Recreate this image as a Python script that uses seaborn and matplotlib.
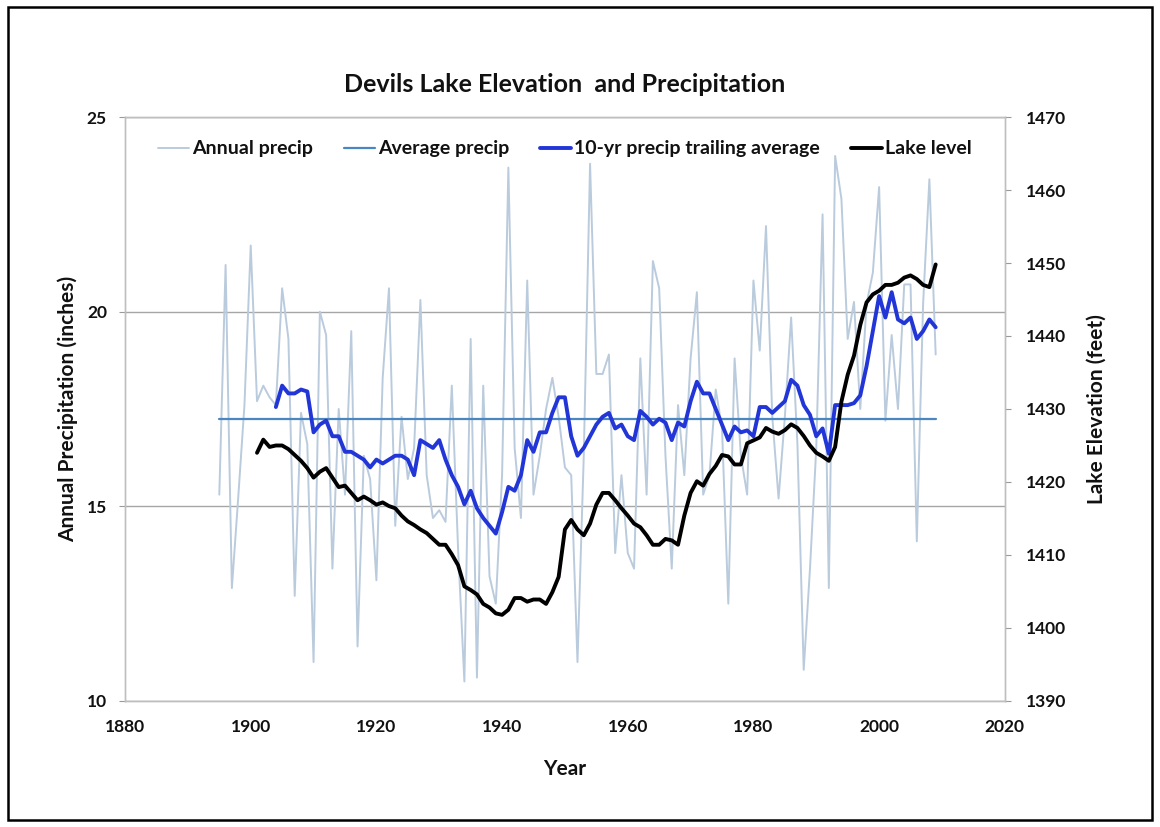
import matplotlib
matplotlib.use("Agg")
import matplotlib.pyplot as plt
import pandas as pd
import seaborn as sns
from matplotlib.patches import Rectangle

# annual precipitation (inches), 1895-2009
PRECIP_YEARS = list(range(1895, 2010))
ANNUAL_PRECIP = [
    15.3, 21.2, 12.9, 15.2, 17.6,
    21.7, 17.7, 18.1, 17.8, 17.6, 20.6, 19.3, 12.7, 17.4, 16.6,
    11.0, 20.0, 19.4, 13.4, 17.5, 15.3, 19.5, 11.4, 16.3, 15.7,
    13.1, 18.3, 20.6, 14.5, 17.3, 15.7, 16.5, 20.3, 15.8, 14.7,
    14.9, 14.6, 18.1, 13.9, 10.5, 19.3, 10.6, 18.1, 13.2, 12.5,
    15.8, 23.7, 16.5, 14.7, 20.8, 15.3, 16.3, 17.5, 18.3, 17.3,
    16.0, 15.8, 11.0, 16.3, 23.8, 18.4, 18.4, 18.9, 13.8, 15.8,
    13.8, 13.4, 18.8, 15.3, 21.3, 20.6, 16.3, 13.4, 17.6, 15.8,
    18.8, 20.5, 15.3, 15.8, 18.0, 17.0, 12.5, 18.8, 16.3, 15.3,
    20.8, 19.0, 22.2, 17.3, 15.2, 17.3, 19.85, 16.6, 10.8, 13.4,
    16.5, 22.5, 12.9, 24.0, 22.9, 19.3, 20.25, 17.5, 20.2, 21.0,
    23.2, 17.2, 19.4, 17.5, 20.7, 20.7, 14.1, 20.2, 23.4, 18.9,
]
AVG_PRECIP = 17.25

# 10-yr trailing average, 1904-2009
TRAIL_YEARS = list(range(1904, 2010))
TRAIL_AVG = [
    17.55, 18.1, 17.9, 17.9, 18.0, 17.95,
    16.9, 17.1, 17.2, 16.8, 16.8, 16.4, 16.4, 16.3, 16.2, 16.0,
    16.2, 16.1, 16.2, 16.3, 16.3, 16.2, 15.8, 16.7, 16.6, 16.5,
    16.7, 16.2, 15.8, 15.5, 15.05, 15.4, 14.95, 14.7, 14.5, 14.3,
    14.85, 15.5, 15.4, 15.8, 16.7, 16.4, 16.9, 16.9, 17.4, 17.8,
    17.8, 16.8, 16.3, 16.5, 16.8, 17.1, 17.3, 17.4, 17.0, 17.1,
    16.8, 16.7, 17.45, 17.3, 17.1, 17.25, 17.15, 16.7, 17.15, 17.05,
    17.7, 18.2, 17.9, 17.9, 17.5, 17.1, 16.7, 17.05, 16.9, 16.95,
    16.8, 17.55, 17.55, 17.4, 17.55, 17.7, 18.25, 18.1, 17.6, 17.35,
    16.8, 17.0, 16.35, 17.6, 17.6, 17.6, 17.65, 17.85, 18.6, 19.5,
    20.4, 19.85, 20.5, 19.8, 19.7, 19.85, 19.3, 19.5, 19.8, 19.6,
]

# lake elevation (feet), 1901-2009
LAKE_YEARS = list(range(1901, 2010))
LAKE_LEVEL = [
    1424.0, 1425.8, 1424.8, 1425.0, 1425.0, 1424.5, 1423.7, 1422.9, 1421.9,
    1420.6, 1421.4, 1421.9, 1420.6, 1419.3, 1419.5, 1418.5, 1417.5, 1418.0, 1417.5,
    1416.9, 1417.2, 1416.7, 1416.4, 1415.4, 1414.6, 1414.1, 1413.5, 1413.0, 1412.2,
    1411.4, 1411.4, 1410.1, 1408.6, 1405.7, 1405.2, 1404.6, 1403.3, 1402.8, 1402.0,
    1401.8, 1402.5, 1404.1, 1404.1, 1403.6, 1403.9, 1403.9, 1403.3, 1404.9, 1407.0,
    1413.5, 1414.8, 1413.5, 1412.7, 1414.3, 1416.9, 1418.5, 1418.5, 1417.5, 1416.4,
    1415.4, 1414.3, 1413.8, 1412.7, 1411.4, 1411.4, 1412.2, 1412.0, 1411.4, 1415.4,
    1418.5, 1420.1, 1419.5, 1421.1, 1422.2, 1423.7, 1423.5, 1422.4, 1422.4, 1425.3,
    1425.7, 1426.1, 1427.4, 1426.9, 1426.6, 1427.1, 1427.9, 1427.4, 1426.3, 1425.0,
    1424.0, 1423.5, 1422.9, 1424.8, 1431.0, 1434.7, 1437.3, 1441.5, 1444.6, 1445.7,
    1446.2, 1447.0, 1447.0, 1447.3, 1448.0, 1448.3, 1447.8, 1447.0, 1446.7, 1449.8,
]

sns.set_style("white")
plt.rcParams["font.family"] = ["Lato", "DejaVu Sans"]
plt.rcParams["font.weight"] = "bold"

GRID = "#A6A6A6"
TEXT = "#111111"

fig = plt.figure(figsize=(11.6, 8.27), dpi=100)
ax = fig.add_axes([0.1078, 0.1524, 0.7584, 0.7061])
ax2 = ax.twinx()

precip_df = pd.DataFrame({"year": PRECIP_YEARS, "precip": ANNUAL_PRECIP})
avg_df = pd.DataFrame({"year": PRECIP_YEARS, "avg": [AVG_PRECIP] * len(PRECIP_YEARS)})
trail_df = pd.DataFrame({"year": TRAIL_YEARS, "trail": TRAIL_AVG})
lake_df = pd.DataFrame({"year": LAKE_YEARS, "lake": LAKE_LEVEL})

sns.lineplot(data=precip_df, x="year", y="precip", ax=ax, color="#BACBDD",
             linewidth=1.4, label="Annual precip", legend=False)
sns.lineplot(data=avg_df, x="year", y="avg", ax=ax, color="#4A86C0",
             linewidth=1.6, label="Average precip", legend=False)
sns.lineplot(data=trail_df, x="year", y="trail", ax=ax, color="#2236D8",
             linewidth=2.8, label="10-yr precip trailing average", legend=False)
sns.lineplot(data=lake_df, x="year", y="lake", ax=ax2, color="black",
             linewidth=2.8, label="Lake level", legend=False)

ax.set_xlim(1880, 2020)
ax.set_ylim(10, 25)
ax2.set_ylim(1390, 1470)
ax.set_xticks(range(1880, 2021, 20))
ax.set_yticks([10, 15, 20, 25])
ax2.set_yticks(range(1390, 1471, 10))

ax.yaxis.grid(True, color=GRID, linewidth=1.0)
ax.set_axisbelow(True)

for a in (ax, ax2):
    for s in a.spines.values():
        s.set_color("#BFBFBF")
        s.set_linewidth(1.0)
    a.tick_params(axis="both", length=4, color="#9A9A9A", direction="out",
                  labelsize=12.5, labelcolor=TEXT, pad=9)
ax2.tick_params(axis="y", pad=11)

ax.set_xlabel("Year", fontsize=15, fontweight="bold", color=TEXT, labelpad=17)
ax.set_ylabel("Annual Precipitation (inches)", fontsize=15, fontweight="bold",
              color=TEXT, labelpad=6)
ax2.set_ylabel("Lake Elevation (feet)", fontsize=15, fontweight="bold",
               color=TEXT, labelpad=15)
ax.set_title("Devils Lake Elevation  and Precipitation", fontsize=18,
             fontweight="bold", color=TEXT, pad=18)

h1, l1 = ax.get_legend_handles_labels()
h2, l2 = ax2.get_legend_handles_labels()
leg = ax2.legend(h1 + h2, l1 + l2, loc="upper center", bbox_to_anchor=(0.5, 0.99),
                 ncol=4, frameon=False, fontsize=14, handlelength=1.6,
                 handletextpad=0.15, columnspacing=1.6)
for t in leg.get_texts():
    t.set_fontweight("bold")
    t.set_color(TEXT)

# black frame around the whole chart
fig.patches.append(Rectangle((0.007, 0.008), 0.986, 0.984, transform=fig.transFigure,
                             fill=False, edgecolor="black", linewidth=1.8))

fig.savefig("out.png", dpi=100)
